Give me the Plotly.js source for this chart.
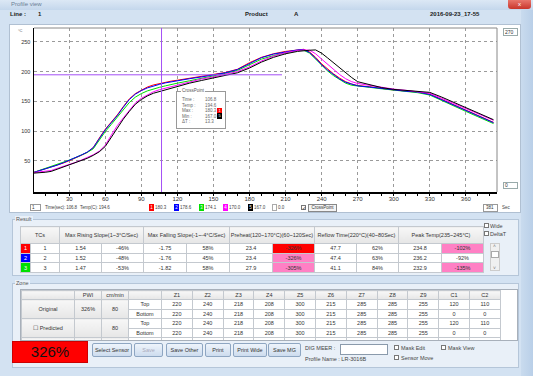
<!DOCTYPE html>
<html><head><meta charset="utf-8">
<script src="https://cdn.plot.ly/plotly-3.0.1.min.js"></script>
<style>
*{box-sizing:border-box}
body{margin:0;width:533px;height:376px;overflow:hidden;background:#d3e2f2;font-family:"Liberation Sans",Arial,sans-serif;font-size:5.5px;color:#333;position:relative}
.a{position:absolute;white-space:nowrap}
table{border-collapse:collapse;table-layout:fixed;position:absolute}
td{padding:0;text-align:center;white-space:nowrap;overflow:hidden;border:1px solid #c4c9cf;font-size:5.5px;color:#333}
.hd{background:linear-gradient(#f7f7f7,#e6e6e6)}
.btn{position:absolute;top:343px;height:14px;border:1px solid #8ea6c2;border-radius:2px;background:linear-gradient(#eef4fb,#cddcee);text-align:center;line-height:12px;font-size:5.5px;color:#333}
.cb{position:absolute;width:5px;height:5px;border:1px solid #777;background:#fff}
.grp{position:absolute;border:1px solid #b5c6d9;background:#e9f0f8}
</style></head><body>
<div id="chart" class="a" style="left:10px;top:25px;width:510px;height:187px;z-index:2"></div>
<script>
// ---------- chart data ----------
const times = [0,5,10,15,20,25,30,35,40,45,50,55,60,65,70,75,80,85,90,95,100,105,110,115,120,130,140,150,160,170,180,190,200,210,220,225,230,235,240,245,250,255,260,265,270,280,290,300,310,320,330,340,350,360,370,380,383];
const tc1 = [30,33,36,39,42,46,50,54,59,64,72,88,103,115,127,141,154,163,169,174,177.5,180,182,184,185.5,188.5,191.5,195,198.5,204,215,224,230,234,237,237.5,233,224,213,204,196,189,183,179,176.5,174.5,171.5,169,167.5,166,162,153,144,135,126,117.5,114.5];
const tc2 = [30,33,36,39.5,42.5,46.5,50.5,54.5,59.5,64.5,72,87,102,114,126,140,153,162,168,172.5,176,178.5,181,183,185,188,191,194.5,198,203.5,214,223.5,229.5,233.5,236.5,237,232,222.5,211.5,202.5,194.5,187.5,182,178.5,176,174,171.5,169,167,165.5,161.5,152.5,143.5,134.5,125.5,117,114];
const tc3 = [30,33.5,37,40,43,47,51,55,59,64,70,85,99,111,123,136,148,157,163,167.5,171,173.5,176,178.5,180.5,184.5,188.5,192.5,197,202,212,221,227,232,235.5,236,231,221,210,201,193,186,180.5,177,175.5,173.5,171,168.5,166.5,164.5,160.5,151,142,133,124,115.5,112.5];
const tc4 = [30,31,32,33.5,37,40,44,47,51,55,60,66,76,93,109,122,135,147,155,161,166,169.5,172,175,178,183,187.5,191,195,200,208,218,226,232,235.5,236.5,236,230,221,212,203,195,188,183,180,176.5,173,170.5,168.5,166.5,163.5,155,146.5,138,129.5,121,118];
const tc5 = [29,29.5,30.5,32,35.5,39,43,46,50,54,59,65,74,90,106,120,133,145,153,159,163.5,166.5,169,172,175,180.5,185,189,193,198,206,216,224,230,234,235.5,236,236.5,231,223,214.5,206,198,190,183,178,173,170,168.5,167,165,157,148,139,130,121.5,119];
const seriesNames = ['1','2','3','4','5'];
const seriesColors = ['#ff0000','#0000ff','#00e000','#ff00ff','#000000'];
const xTickVals = [30,60,90,120,150,180,210,240,270,300,330,360];
const yTickVals = [50,100,150,200,250];
const crossTime = 106.8, crossTemp = 194.6, crossLineEnd = 207;
const crossValues = [180.3,178.6,174.1,170.0,167.0];
const xRange = [0.7,385.9], yRange = [-2.7,273.4];

// ---------- result table data ----------
const tcIds = ['1','2','3'];
const tcColors = ['#ff0000','#0000ff','#00e000'];
const resultHeaders = ['TCs','Max Rising Slope(1~3°C/Sec)','Max Falling Slope(-1~-4°C/Sec)','Preheat(120~170°C)(60~120Sec)','Reflow Time(220°C)(40~80Sec)','Peak Temp(235~245°C)'];
const maxRise = ['1.54','1.52','1.47'];
const maxRisePct = ['-46%','-48%','-53%'];
const maxFall = ['-1.75','-1.76','-1.82'];
const maxFallPct = ['58%','45%','58%'];
const preheat = ['23.4','23.4','27.9'];
const preheatPct = ['-326%','-326%','-305%'];
const reflow = ['47.7','47.4','41.1'];
const reflowPct = ['62%','63%','84%'];
const peak = ['234.8','236.2','232.9'];
const peakPct = ['-102%','-92%','-135%'];
const preheatPctBg = ['#ff0000','#ff80c4','#ff80c4'];
const peakPctBg = ['#ff80c4','#ffffff','#ff80c4'];

// ---------- zone table data ----------
const zoneNames = ['Z1','Z2','Z3','Z4','Z5','Z6','Z7','Z8','Z9','C1','C2'];
const origTop = ['220','240','218','208','300','215','285','285','255','120','110'];
const origBottom = ['220','240','218','208','300','215','285','285','255','0','0'];
const predTop = ['220','240','218','208','300','215','285','285','255','120','110'];
const predBottom = ['220','240','218','208','300','215','285','285','255','0','0'];
const pwi = '326%', speed = '80';

// ---------- chart ----------
const traceOrder = [0,2,1,3,4];
const allSeries = [tc1,tc2,tc3,tc4,tc5];
const traces = traceOrder.map(i => ({x:times,y:allSeries[i],mode:'lines',name:seriesNames[i],line:{color:seriesColors[i],width:1},hoverinfo:'skip'}));
const cross = '#a450f5';
const layout = {
  width:510,height:187,margin:{l:24,r:23,t:3,b:20,pad:0},
  paper_bgcolor:'#ffffff',plot_bgcolor:'#ffffff',showlegend:false,
  font:{family:'Liberation Sans, Arial, sans-serif',size:6,color:'#333'},
  xaxis:{range:xRange,tickmode:'array',tickvals:xTickVals,ticktext:xTickVals.map(String),showgrid:true,gridcolor:'#9a9a9a',griddash:'dot',gridwidth:1,
    showline:true,linecolor:'#000',linewidth:1.5,ticks:'outside',ticklen:2,tickcolor:'#000',zeroline:false,tickfont:{size:6,color:'#333'},ticklabelstandoff:-2,
    minor:{tick0:0,dtick:10,ticks:'outside',ticklen:2,tickcolor:'#000',showgrid:false}},
  yaxis:{range:yRange,tickmode:'array',tickvals:yTickVals,ticktext:yTickVals.map(String),showgrid:true,gridcolor:'#9a9a9a',griddash:'dot',gridwidth:1,
    showline:true,linecolor:'#000',linewidth:1.5,ticks:'',zeroline:false,tickfont:{size:5.5,color:'#333'},ticklabelstandoff:1},
  shapes:[
    {type:'line',xref:'paper',yref:'paper',x0:0,x1:1,y0:1,y1:1,line:{color:'#888',width:1}},
    {type:'line',xref:'paper',yref:'paper',x0:1,x1:1,y0:0,y1:1,line:{color:'#888',width:1}},
    {type:'line',xref:'x',yref:'paper',x0:crossTime,x1:crossTime,y0:0,y1:1,line:{color:cross,width:1}},
    {type:'line',xref:'x',yref:'y',x0:xRange[0],x1:crossLineEnd,y0:crossTemp,y1:crossTemp,line:{color:cross,width:1}}
  ],
  annotations:[{xref:'paper',yref:'paper',x:-0.02,y:0.985,xanchor:'right',yanchor:'middle',text:'°C',showarrow:false,font:{size:4,color:'#555'}}]
};
Plotly.newPlot('chart',traces,layout,{staticPlot:true,displayModeBar:false});

// ---------- UI helpers ----------
function box(x,y,w,h,style,text,cls){
  const d=document.createElement('div');d.className=cls||'a';
  d.style.cssText=`left:${x}px;top:${y}px;width:${w}px;height:${h}px;`+(style||'');
  if(text!==undefined) d.textContent=text;
  document.body.appendChild(d);return d;
}
function txt(x,y,text,style){const d=document.createElement('div');d.className='a';d.style.cssText=`left:${x}px;top:${y}px;`+(style||'');d.textContent=text;document.body.appendChild(d);return d;}
function ontop(d){d.style.zIndex=5;return d;}

// title bar + header
box(0,0,533,10,'background:linear-gradient(#dce8f5,#c4d7ec)');
txt(11,1,'Profile view','font-size:6px;color:#6b7f96;');
box(508,0,23,9,'background:linear-gradient(#e8766c,#c9352b);border-radius:0 0 3px 3px;color:#fff;text-align:center;font-size:6px;line-height:8px;','x');
txt(10,11,'Line :','font-size:6px;font-weight:bold;color:#222');
txt(38,11,'1','font-size:6px;font-weight:bold;color:#222');
txt(245,11,'Product','font-size:6px;font-weight:bold;color:#222');
txt(294,11,'A','font-size:6px;font-weight:bold;color:#222');
txt(430,11,'2016-09-23_17-55','font-size:6px;font-weight:bold;color:#222');
box(521,10,12,366,'background:linear-gradient(90deg,#c9dbee,#b9cfe8)');

// chart panel surrounding white
box(9,24,512,189,'background:#fff;border:1px solid #b0c0d2;z-index:1');
// chart extras
ontop(box(503,28,15,8,'border:1px solid #9aa;background:#fff;font-size:5px;line-height:6px;padding-left:1px','270'));
ontop(box(503,182,15,7,'border:1px solid #9aa;background:#fff;font-size:5px;line-height:5px;padding-left:1px','0'));
// legend row
const LY=204;
ontop(box(30,LY,11,7,'border:1px solid #999;background:#fff;font-size:4.5px;line-height:5px;padding-left:1px','1'));
ontop(txt(45,LY+1,'Time(sec): '+crossTime.toFixed(1),'font-size:4.5px;color:#444;letter-spacing:-0.1px'));
ontop(txt(80,LY+1,'Temp(C): '+crossTemp.toFixed(1),'font-size:4.5px;color:#444;letter-spacing:-0.1px'));
const legX=[149,174,199,223,248];
seriesNames.forEach((n,i)=>{
  ontop(box(legX[i],LY,5,7,`background:${seriesColors[i]};color:#fff;font-size:4.5px;line-height:7px;text-align:center`,n));
  ontop(txt(legX[i]+6,LY+1,crossValues[i].toFixed(1),'font-size:4.5px;color:#444'));
});
ontop(box(272,LY,5,7,'border:1px solid #aaa;background:#fff'));
ontop(txt(278,LY+1,'0.0','font-size:4.5px;color:#444'));
ontop(box(301,LY+1,5,5,'border:1px solid #777;background:#fff;font-size:5px;line-height:4px;text-align:center','✓'));
ontop(box(308,LY,29,8,'border:1px solid #888;background:#f4f4f4;font-size:4.5px;line-height:6px;text-align:center','CrossPoint'));
ontop(box(483,LY,15,8,'border:1px solid #999;background:#fff;font-size:4.5px;line-height:6px;padding-left:2px','381'));
ontop(txt(502,LY+1,'Sec','font-size:4.5px;color:#444'));
// crosspoint box
ontop(box(176,91,50,38,'border:1px solid #999;background:#fff'));
ontop(txt(181,88,'CrossPoint','font-size:4.5px;color:#555;background:#fff;padding:0 1px'));
const cpLab=['Time :','Temp :','Max :','Min :','ΔT :'];
const cpVal=[crossTime.toFixed(1),crossTemp.toFixed(1),crossValues[0].toFixed(1),crossValues[4].toFixed(1),(crossValues[0]-crossValues[4]).toFixed(1)];
cpLab.forEach((l,i)=>{
  ontop(txt(182,97+i*5.5,l,'font-size:4.5px;color:#666'));
  ontop(txt(205,97+i*5.5,cpVal[i],'font-size:4.5px;color:#666'));
});
ontop(box(217,107.5,5,5.5,'background:#ff0000;color:#fff;font-size:4px;line-height:5px;text-align:center','1'));
ontop(box(217,113,5,5.5,'background:#000;color:#fff;font-size:4px;line-height:5px;text-align:center','5'));

// ---------- Result group ----------
box(12,219,507,57,'','', 'grp');
txt(15,216,'Result','font-size:5.5px;color:#555;background:#e9f0f8;padding:0 1px');
function makeTable(x,y,widths,parent){
  const t=document.createElement('table');t.style.left=x+'px';t.style.top=y+'px';
  t.style.width=widths.reduce((a,b)=>a+b,0)+'px';
  const cg=document.createElement('colgroup');widths.forEach(w=>{const c=document.createElement('col');c.style.width=w+'px';cg.appendChild(c);});t.appendChild(cg);
  (parent||document.body).appendChild(t);return t;
}
function row(t,h,cells){
  const r=document.createElement('tr');r.style.height=h+'px';
  cells.forEach(c=>{const d=document.createElement('td');d.textContent=c.t||'';if(c.cs)d.colSpan=c.cs;if(c.rs)d.rowSpan=c.rs;if(c.cls)d.className=c.cls;if(c.st)d.style.cssText+=c.st;r.appendChild(d);});
  t.appendChild(r);
}
const rt=makeTable(20,226,[10,29,42,42,43,43,43,42,42,42,43,42]);
row(rt,17,resultHeaders.map(h=>({t:h,cs:2,cls:'hd'})));
tcIds.forEach((id,i)=>{
  row(rt,9.7,[
    {t:id,st:`background:${tcColors[i]};color:#fff`},{t:id,st:'background:#fff'},
    {t:maxRise[i],st:'background:#fff'},{t:maxRisePct[i],st:'background:#fff'},
    {t:maxFall[i],st:'background:#fff'},{t:maxFallPct[i],st:'background:#fff'},
    {t:preheat[i],st:'background:#fff'},{t:preheatPct[i],st:`background:${preheatPctBg[i]}`},
    {t:reflow[i],st:'background:#fff'},{t:reflowPct[i],st:'background:#fff'},
    {t:peak[i],st:'background:#fff'},{t:peakPct[i],st:`background:${peakPctBg[i]}`}
  ]);
});
box(484,223,5,5,'','', 'cb');txt(490,222.5,'Wide','font-size:5.5px;color:#444');
box(484,231,5,5,'','', 'cb');txt(490,230.5,'DeltaT','font-size:5.5px;color:#444');
box(490,243,10,28,'background:#f0f0f0;border:1px solid #ccc');
txt(493,243,'˄','font-size:5px;color:#777');
box(491,251,8,7,'background:#fff;border:1px solid #aaa');
txt(493,265,'˅','font-size:5px;color:#777');

// ---------- Zone group ----------
box(12,283,507,85,'','', 'grp');
txt(15,279.5,'Zone','font-size:5.5px;color:#555;background:#e9f0f8;padding:0 1px');
const zc=box(20,289,498,52,'background:#fff;border:1px solid #a8b0ba;overflow:hidden');
const zt=makeTable(0,0,[53,27,27,33].concat(zoneNames.map(()=>30.8)),zc);
row(zt,9,[{t:'',cls:'hd'},{t:'PWI',cls:'hd'},{t:'cm/min',cls:'hd'},{t:'',cls:'hd'}].concat(zoneNames.map(z=>({t:z,cls:'hd'}))));
row(zt,9.6,[{t:'Original',rs:2,cls:'hd'},{t:pwi,rs:2,cls:'hd'},{t:speed,rs:2,cls:'hd'},{t:'Top'}].concat(origTop.map(v=>({t:v}))));
row(zt,9.6,[{t:'Bottom'}].concat(origBottom.map(v=>({t:v}))));
row(zt,9.6,[{t:'☐ Predicted',rs:2,cls:'hd'},{t:'',rs:2,cls:'hd'},{t:speed,rs:2,cls:'hd'},{t:'Top'}].concat(predTop.map(v=>({t:v}))));
row(zt,9.6,[{t:'Bottom'}].concat(predBottom.map(v=>({t:v}))));
row(zt,9.6,[{t:'',cls:'hd'},{t:'',cls:'hd'},{t:'',cls:'hd'},{t:''}].concat(zoneNames.map(()=>({t:''}))));

// ---------- bottom controls ----------
box(12,341,76,22,'background:#ff0000;border:1px solid #c00;color:#111;font-size:15px;line-height:20px;text-align:center;','326%');
const btns=[['Select Sensor',92,40],['Save',134,29],['Save Other',166,37],['Print',205,26],['Print Wide',233,34],['Save MG',268,33]];
btns.forEach(b=>{const d=box(b[1],343,b[2],14,'',b[0],'btn');if(b[0]==='Save')d.style.color='#aab';});
txt(305,345,'DIG MEER :','font-size:5.5px;color:#444');
box(340,344,48,11,'background:#fff;border:1px solid #8a9aab');
txt(305,356,'Profile Name :  LR-3016B','font-size:5.5px;color:#444');
box(394,345,5,5,'','', 'cb');txt(401,344.5,'Mask Edit','font-size:5.5px;color:#444');
box(394,355,5,5,'','', 'cb');txt(401,354.5,'Sensor Move','font-size:5.5px;color:#444');
box(441,345,5,5,'','', 'cb');txt(448,344.5,'Mask View','font-size:5.5px;color:#444');
</script>
</body></html>
